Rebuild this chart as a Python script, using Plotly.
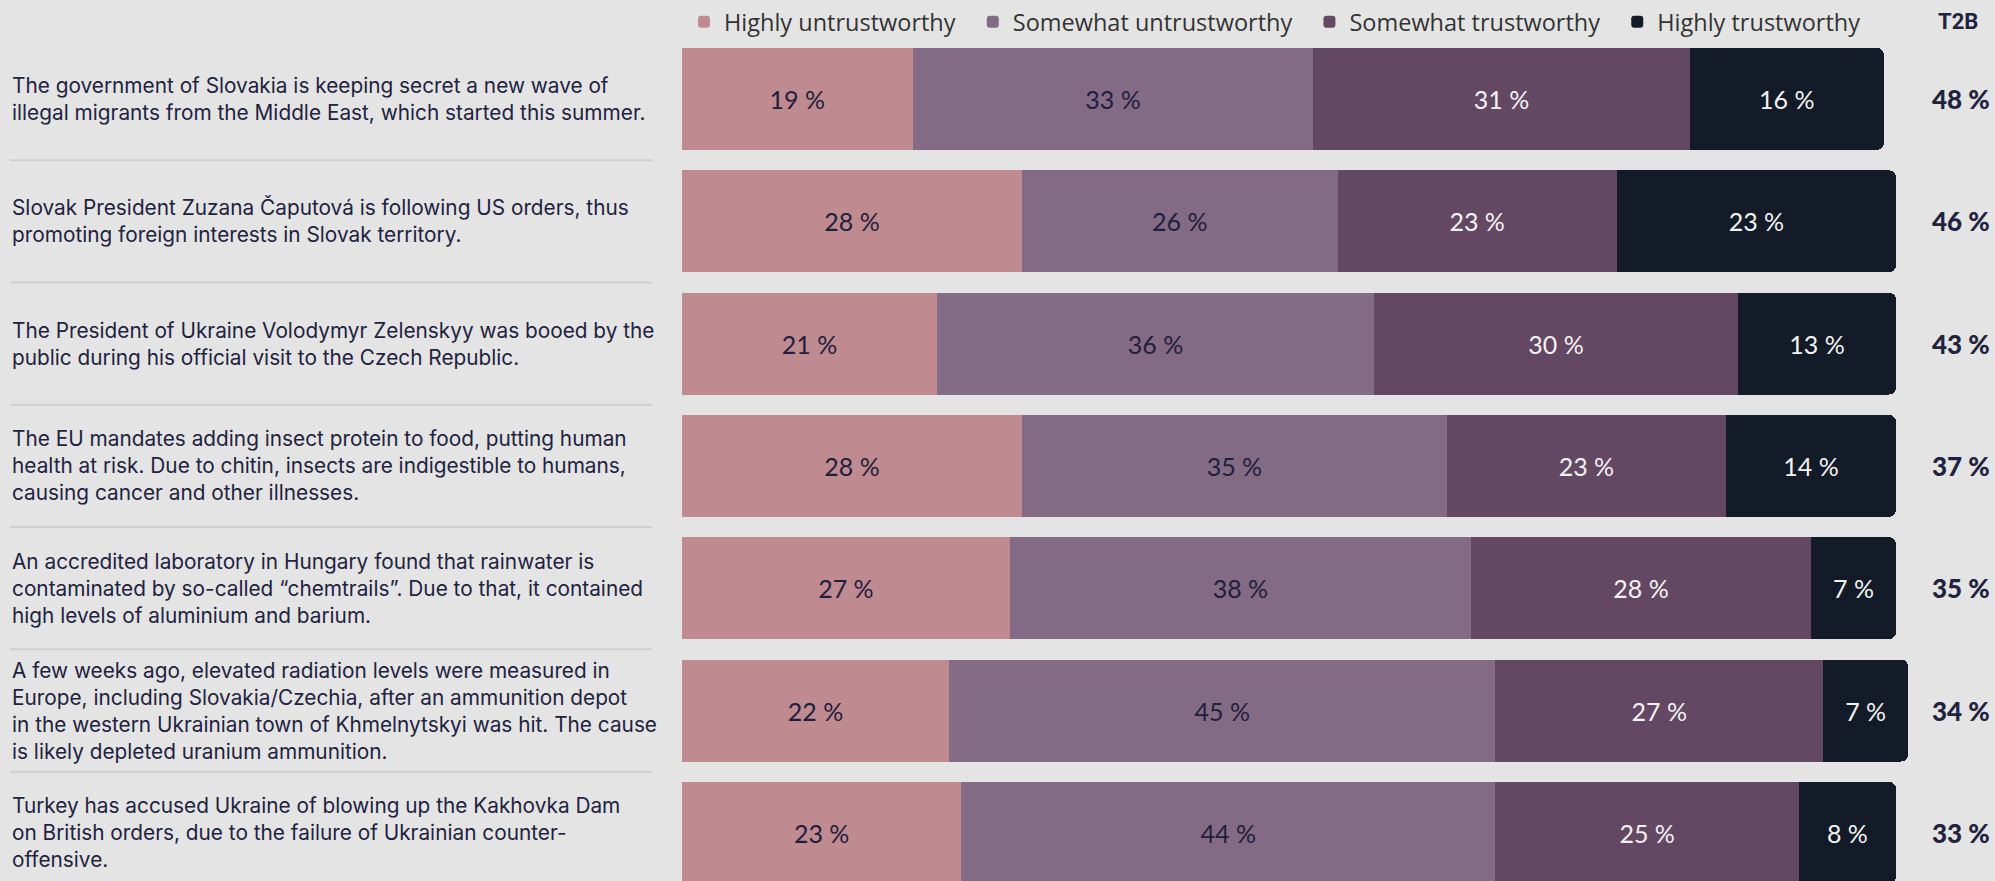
import plotly.graph_objects as go

statements = [
    "The government of Slovakia is keeping secret a new wave of<br>illegal migrants from the Middle East, which started this summer.",
    "Slovak President Zuzana Čaputová is following US orders, thus<br>promoting foreign interests in Slovak territory.",
    "The President of Ukraine Volodymyr Zelenskyy was booed by the<br>public during his official visit to the Czech Republic.",
    "The EU mandates adding insect protein to food, putting human<br>health at risk. Due to chitin, insects are indigestible to humans,<br>causing cancer and other illnesses.",
    "An accredited laboratory in Hungary found that rainwater is<br>contaminated by so-called “chemtrails”. Due to that, it contained<br>high levels of aluminium and barium.",
    "A few weeks ago, elevated radiation levels were measured in<br>Europe, including Slovakia/Czechia, after an ammunition depot<br>in the western Ukrainian town of Khmelnytskyi was hit. The cause<br>is likely depleted uranium ammunition.",
    "Turkey has accused Ukraine of blowing up the Kakhovka Dam<br>on British orders, due to the failure of Ukrainian counter-<br>offensive.",
]
series_names = ["Highly untrustworthy", "Somewhat untrustworthy", "Somewhat trustworthy", "Highly trustworthy"]
highly_untrust = [19, 28, 21, 28, 27, 22, 23]
somewhat_untrust = [33, 26, 36, 35, 38, 45, 44]
somewhat_trust = [31, 23, 30, 23, 28, 27, 25]
highly_trust = [16, 23, 13, 14, 7, 7, 8]
t2b = [48, 46, 43, 37, 35, 34, 33]

colors = ["#bf8a90", "#836a85", "#644763", "#131a28"]
text_colors = ["#1f1f3d", "#1f1f3d", "#f2f2f2", "#f2f2f2"]
series = [highly_untrust, somewhat_untrust, somewhat_trust, highly_trust]

W, H = 1995, 881
L = 682
px_per_pct = (1896 - 682) / 100.0
x_max = (W - L) / px_per_pct
row0_center = 99.0
pitch = 122.3
y_top = (0 - row0_center) / pitch
y_bot = (H - row0_center) / pitch

rows = list(range(len(statements)))
PAD = "\u00a0\u00a0"

fig = go.Figure()
for name, vals, col, tcol in zip(series_names, series, colors, text_colors):
    fig.add_trace(go.Bar(
        x=vals, y=rows, orientation="h", name=name + PAD,
        marker=dict(color=col, line=dict(width=0)),
        text=[f"{v} %" for v in vals], textposition="inside",
        insidetextanchor="middle", textangle=0, constraintext="none",
        insidetextfont=dict(family="Lato, sans-serif", size=25, color=tcol),
        hovertemplate=name + ": %{x} %<extra></extra>",
    ))

annotations = []
for i, s in enumerate(statements):
    annotations.append(dict(
        x=(10 - L) / (W - L), xref="paper", y=i, yref="y", yshift=0,
        text=s, showarrow=False, xanchor="left", yanchor="middle", align="left",
        font=dict(family="Inter, sans-serif", size=20.8, color="#22223f"),
    ))
    annotations.append(dict(
        x=(1961 - L) / px_per_pct, xref="x", y=i, yref="y", text=f"{t2b[i]} %", showarrow=False,
        xanchor="center", yanchor="middle",
        font=dict(family="Lato, sans-serif", size=26, color="#22223f", weight=900),
    ))
annotations.append(dict(
    x=(1958 - L) / px_per_pct, xref="x", y=1 - 22 / H, yref="paper", text="<b>T2B</b>", showarrow=False,
    xanchor="center", yanchor="middle",
    font=dict(family="Roboto, sans-serif", size=22, color="#22223f"),
))

shapes = []
for i in range(len(statements) - 1):
    shapes.append(dict(
        type="line", xref="paper", yref="y",
        x0=(10 - L) / (W - L), x1=(652 - L) / (W - L), y0=i + 0.5, y1=i + 0.5,
        line=dict(color="#cfcfcf", width=2),
    ))

fig.update_layout(
    width=W, height=H, barmode="stack", bargap=1 - 102 / pitch, barcornerradius=7,
    paper_bgcolor="#e4e4e4", plot_bgcolor="#e4e4e4",
    margin=dict(l=L, r=0, t=0, b=0),
    xaxis=dict(range=[0, x_max], visible=False, fixedrange=True),
    yaxis=dict(range=[y_bot, y_top], visible=False, fixedrange=True),
    showlegend=True,
    legend=dict(orientation="h", x=2 / (W - L), xanchor="left", y=1 - 22 / H, yanchor="middle",
                bgcolor="rgba(0,0,0,0)", traceorder="normal",
                font=dict(family="Open Sans, sans-serif", size=23.5, color="#333333")),
    annotations=annotations, shapes=shapes,
)

fig.write_html("out.html", config={"displayModeBar": False},
               post_script="document.body.style.margin='0';document.body.style.overflow='hidden';")
